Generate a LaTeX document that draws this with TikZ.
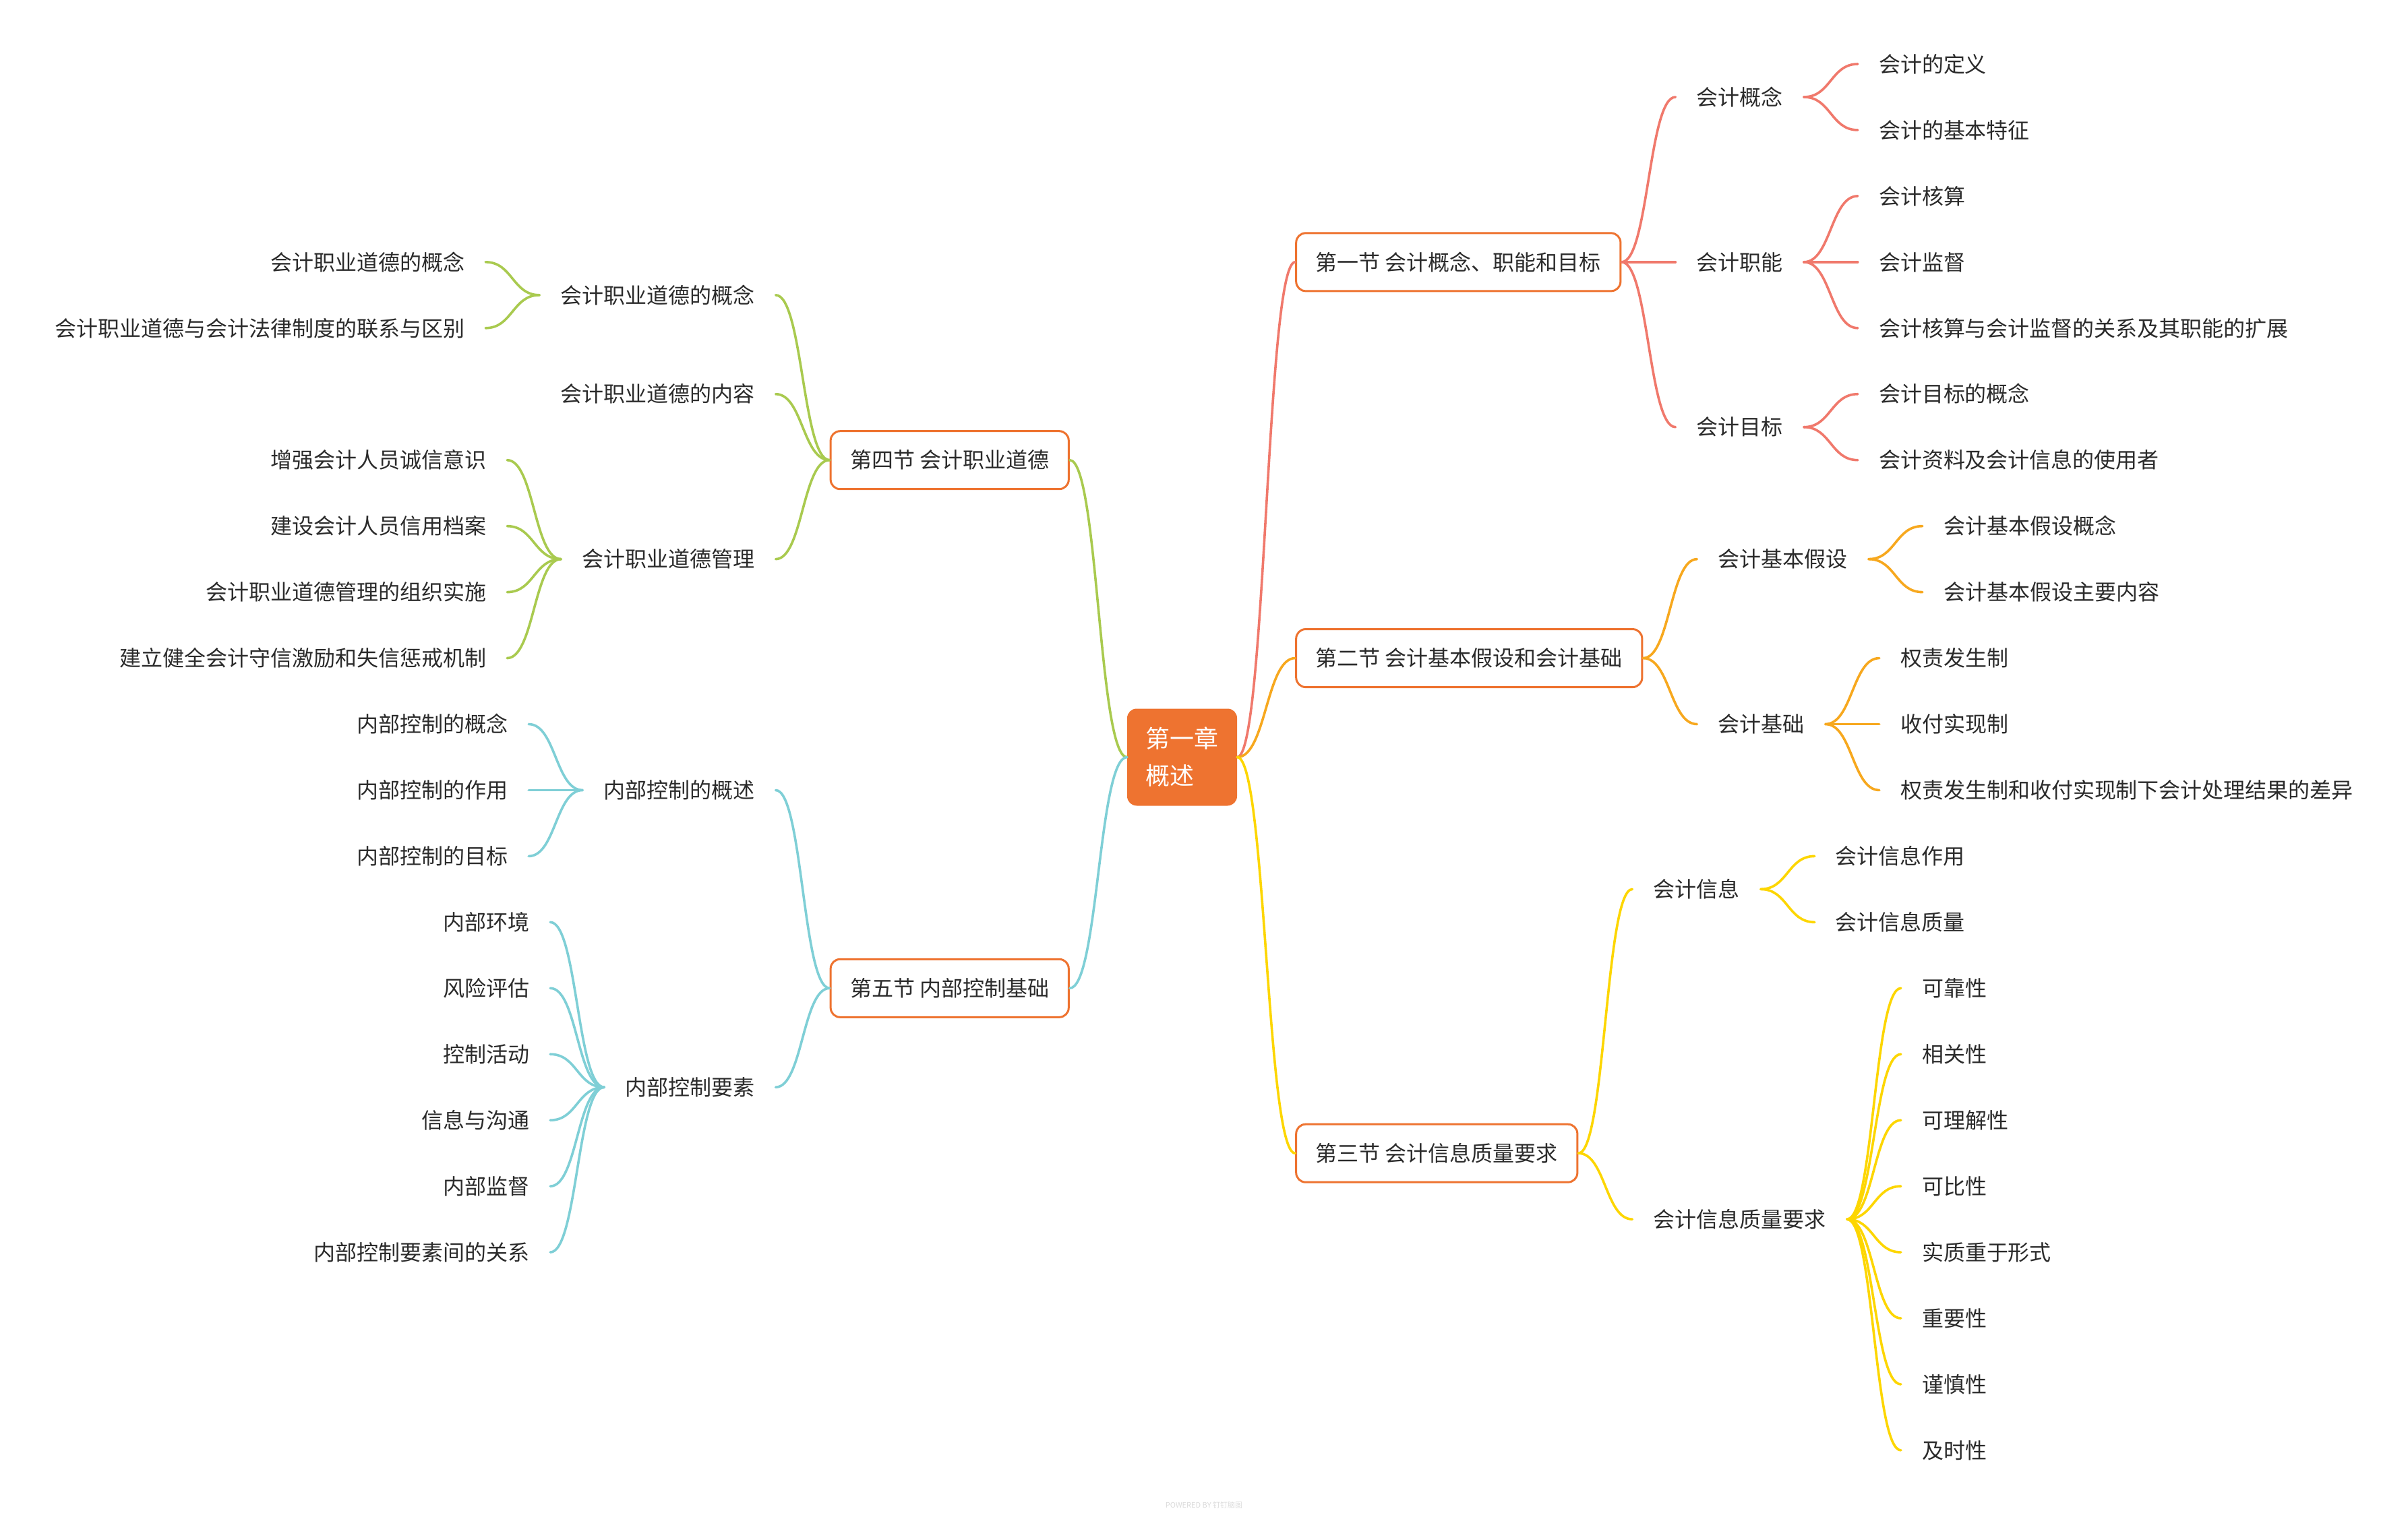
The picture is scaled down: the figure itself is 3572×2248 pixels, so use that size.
\documentclass[tikz,border=0pt]{standalone}
\usepackage{fontspec}
\setmainfont{Noto Sans CJK SC}
\usetikzlibrary{calc}
\definecolor{rootc}{HTML}{EE7330}
\definecolor{cA}{HTML}{F0796C}
\definecolor{cB}{HTML}{F7A81E}
\definecolor{cC}{HTML}{FDD600}
\definecolor{cD}{HTML}{A9CA4F}
\definecolor{cE}{HTML}{7FCFD6}
\definecolor{txt}{HTML}{2B2B2B}
\newcommand\rconn[3]{\draw[conn,#3] let \p1=(#1.east),\p2=(#2.west) in (\p1) .. controls ({(\x1+\x2)/2},\y1) and ({(\x1+\x2)/2},\y2) .. (\p2);}
\newcommand\lconn[3]{\draw[conn,#3] let \p1=(#1.west),\p2=(#2.east) in (\p1) .. controls ({(\x1+\x2)/2},\y1) and ({(\x1+\x2)/2},\y2) .. (\p2);}
\begin{document}
\begin{tikzpicture}[x=1pt,y=-1pt,
  rootn/.style={rounded corners=14pt,fill=rootc,text=white,font=\fontsize{36}{55}\selectfont,minimum width=163pt,minimum height=144pt,align=left,inner sep=0pt},
  sec/.style={draw=rootc,line width=3pt,rounded corners=14pt,fill=white,text=txt,font=\fontsize{32}{38}\selectfont,inner xsep=29pt,minimum height=86pt,text height=28.2pt,text depth=3.8pt},
  tn/.style={text=txt,font=\fontsize{32}{38}\selectfont,inner xsep=31pt,inner ysep=4pt,text height=28.2pt,text depth=3.8pt},
  conn/.style={line width=3.6pt,line cap=round}]
\fill[white] (0,0) rectangle (3572,2248);
\useasboundingbox (0,0) rectangle (3572,2248);

\node[rootn] (root) at (1753.5,1123.5) {第一章\\概述};
\coordinate (RR) at ([xshift=86pt]root.east);
\coordinate (LL) at ([xshift=-85pt]root.west);

% sections
\node[sec,anchor=west] (s1) at (RR |- 0,388.85) {第一节 会计概念、职能和目标};
\node[sec,anchor=west] (s2) at (RR |- 0,976.55) {第二节 会计基本假设和会计基础};
\node[sec,anchor=west] (s3) at (RR |- 0,1711.18) {第三节 会计信息质量要求};
\node[sec,anchor=east] (s4) at (LL |- 0,682.7) {第四节 会计职业道德};
\node[sec,anchor=east] (s5) at (LL |- 0,1466.3) {第五节 内部控制基础};

% section 1
\coordinate (p1) at ([xshift=80pt]s1.east);
\node[tn,anchor=west] (a1) at (p1 |- 0,143.98) {会计概念};
\node[tn,anchor=west] (a2) at (p1 |- 0,388.85) {会计职能};
\node[tn,anchor=west] (a3) at (p1 |- 0,633.73) {会计目标};
\coordinate (q1) at ([xshift=80pt]a1.east);
\node[tn,anchor=west] (a11) at (q1 |- 0,95) {会计的定义};
\node[tn,anchor=west] (a12) at (q1 |- 0,192.95) {会计的基本特征};
\coordinate (q2) at ([xshift=80pt]a2.east);
\node[tn,anchor=west] (a21) at (q2 |- 0,290.9) {会计核算};
\node[tn,anchor=west] (a22) at (q2 |- 0,388.85) {会计监督};
\node[tn,anchor=west] (a23) at (q2 |- 0,486.8) {会计核算与会计监督的关系及其职能的扩展};
\coordinate (q3) at ([xshift=80pt]a3.east);
\node[tn,anchor=west] (a31) at (q3 |- 0,584.75) {会计目标的概念};
\node[tn,anchor=west] (a32) at (q3 |- 0,682.7) {会计资料及会计信息的使用者};

% section 2
\coordinate (p2) at ([xshift=80pt]s2.east);
\node[tn,anchor=west] (b1) at (p2 |- 0,829.63) {会计基本假设};
\node[tn,anchor=west] (b2) at (p2 |- 0,1074.5) {会计基础};
\coordinate (q4) at ([xshift=80pt]b1.east);
\node[tn,anchor=west] (b11) at (q4 |- 0,780.65) {会计基本假设概念};
\node[tn,anchor=west] (b12) at (q4 |- 0,878.6) {会计基本假设主要内容};
\coordinate (q5) at ([xshift=80pt]b2.east);
\node[tn,anchor=west] (b21) at (q5 |- 0,976.55) {权责发生制};
\node[tn,anchor=west] (b22) at (q5 |- 0,1074.5) {收付实现制};
\node[tn,anchor=west] (b23) at (q5 |- 0,1172.45) {权责发生制和收付实现制下会计处理结果的差异};

% section 3
\coordinate (p3) at ([xshift=80pt]s3.east);
\node[tn,anchor=west] (d1) at (p3 |- 0,1319.38) {会计信息};
\node[tn,anchor=west] (d2) at (p3 |- 0,1809.13) {会计信息质量要求};
\coordinate (q6) at ([xshift=80pt]d1.east);
\node[tn,anchor=west] (d11) at (q6 |- 0,1270.4) {会计信息作用};
\node[tn,anchor=west] (d12) at (q6 |- 0,1368.35) {会计信息质量};
\coordinate (q7) at ([xshift=80pt]d2.east);
\node[tn,anchor=west] (d21) at (q7 |- 0,1466.3) {可靠性};
\node[tn,anchor=west] (d22) at (q7 |- 0,1564.25) {相关性};
\node[tn,anchor=west] (d23) at (q7 |- 0,1662.2) {可理解性};
\node[tn,anchor=west] (d24) at (q7 |- 0,1760.15) {可比性};
\node[tn,anchor=west] (d25) at (q7 |- 0,1858.1) {实质重于形式};
\node[tn,anchor=west] (d26) at (q7 |- 0,1956.05) {重要性};
\node[tn,anchor=west] (d27) at (q7 |- 0,2054) {谨慎性};
\node[tn,anchor=west] (d28) at (q7 |- 0,2151.95) {及时性};

% section 4
\coordinate (p4) at ([xshift=-80pt]s4.west);
\node[tn,anchor=east] (e1) at (p4 |- 0,437.83) {会计职业道德的概念};
\node[tn,anchor=east] (e2) at (p4 |- 0,584.75) {会计职业道德的内容};
\node[tn,anchor=east] (e3) at (p4 |- 0,829.63) {会计职业道德管理};
\coordinate (q8) at ([xshift=-80pt]e1.west);
\node[tn,anchor=east] (e11) at (q8 |- 0,388.85) {会计职业道德的概念};
\node[tn,anchor=east] (e12) at (q8 |- 0,486.8) {会计职业道德与会计法律制度的联系与区别};
\coordinate (q9) at ([xshift=-80pt]e3.west);
\node[tn,anchor=east] (e31) at (q9 |- 0,682.7) {增强会计人员诚信意识};
\node[tn,anchor=east] (e32) at (q9 |- 0,780.65) {建设会计人员信用档案};
\node[tn,anchor=east] (e33) at (q9 |- 0,878.6) {会计职业道德管理的组织实施};
\node[tn,anchor=east] (e34) at (q9 |- 0,976.55) {建立健全会计守信激励和失信惩戒机制};

% section 5
\coordinate (p5) at ([xshift=-80pt]s5.west);
\node[tn,anchor=east] (f1) at (p5 |- 0,1172.45) {内部控制的概述};
\node[tn,anchor=east] (f2) at (p5 |- 0,1613.23) {内部控制要素};
\coordinate (q10) at ([xshift=-80pt]f1.west);
\node[tn,anchor=east] (f11) at (q10 |- 0,1074.5) {内部控制的概念};
\node[tn,anchor=east] (f12) at (q10 |- 0,1172.45) {内部控制的作用};
\node[tn,anchor=east] (f13) at (q10 |- 0,1270.4) {内部控制的目标};
\coordinate (q11) at ([xshift=-80pt]f2.west);
\node[tn,anchor=east] (f21) at (q11 |- 0,1368.35) {内部环境};
\node[tn,anchor=east] (f22) at (q11 |- 0,1466.3) {风险评估};
\node[tn,anchor=east] (f23) at (q11 |- 0,1564.25) {控制活动};
\node[tn,anchor=east] (f24) at (q11 |- 0,1662.2) {信息与沟通};
\node[tn,anchor=east] (f25) at (q11 |- 0,1760.15) {内部监督};
\node[tn,anchor=east] (f26) at (q11 |- 0,1858.1) {内部控制要素间的关系};

% connectors
\rconn{root}{s1}{cA}
\rconn{root}{s2}{cB}
\rconn{root}{s3}{cC}
\lconn{root}{s4}{cD}
\lconn{root}{s5}{cE}
\foreach \b in {a1,a2,a3} {\rconn{s1}{\b}{cA}}
\foreach \b in {a11,a12} {\rconn{a1}{\b}{cA}}
\foreach \b in {a21,a22,a23} {\rconn{a2}{\b}{cA}}
\foreach \b in {a31,a32} {\rconn{a3}{\b}{cA}}
\foreach \b in {b1,b2} {\rconn{s2}{\b}{cB}}
\foreach \b in {b11,b12} {\rconn{b1}{\b}{cB}}
\foreach \b in {b21,b22,b23} {\rconn{b2}{\b}{cB}}
\foreach \b in {d1,d2} {\rconn{s3}{\b}{cC}}
\foreach \b in {d11,d12} {\rconn{d1}{\b}{cC}}
\foreach \b in {d21,d22,d23,d24,d25,d26,d27,d28} {\rconn{d2}{\b}{cC}}
\foreach \b in {e1,e2,e3} {\lconn{s4}{\b}{cD}}
\foreach \b in {e11,e12} {\lconn{e1}{\b}{cD}}
\foreach \b in {e31,e32,e33,e34} {\lconn{e3}{\b}{cD}}
\foreach \b in {f1,f2} {\lconn{s5}{\b}{cE}}
\foreach \b in {f11,f12,f13} {\lconn{f1}{\b}{cE}}
\foreach \b in {f21,f22,f23,f24,f25,f26} {\lconn{f2}{\b}{cE}}

\node[text=black!14,font=\fontsize{11}{13}\selectfont,inner sep=0pt] (wm) at (1786,2233) {POWERED BY 钉钉脑图};
\end{tikzpicture}
\end{document}
